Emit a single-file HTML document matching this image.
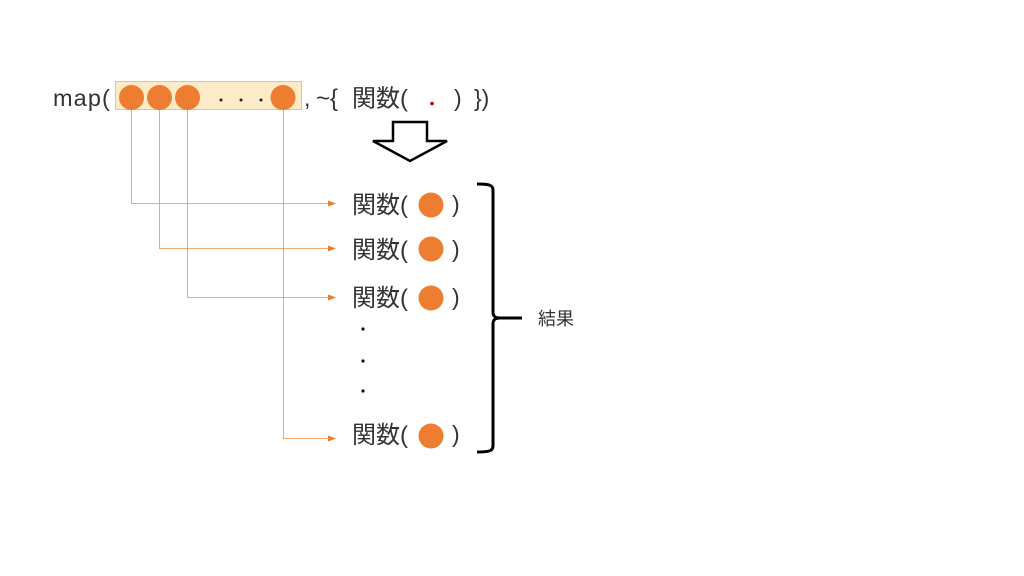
<!DOCTYPE html>
<html>
<head>
<meta charset="utf-8">
<style>
  html,body{margin:0;padding:0;background:#fff;}
  svg{display:block;}
  text{font-family:"Liberation Sans","Noto Sans CJK JP",sans-serif;fill:#333;}
</style>
</head>
<body>
<svg width="1024" height="576" viewBox="0 0 1024 576" xmlns="http://www.w3.org/2000/svg">
  <rect x="0" y="0" width="1024" height="576" fill="#fff"/>

  <!-- top expression -->
  <text x="53" y="106" font-size="23.5" letter-spacing="1.1">map(</text>
  <rect x="115.5" y="81.5" width="186" height="28" fill="#fdeac6" stroke="#f4c35c" stroke-width="1"/>

  <!-- connectors -->
  <g fill="none" stroke="#ef9a5c" stroke-width="1" stroke-opacity="0.85">
    <path d="M131.5,100 V203.5 H329"/>
    <path d="M159.5,100 V248.5 H329"/>
    <path d="M187.5,100 V297.5 H329"/>
    <path d="M283.5,100 V438.5 H329"/>
  </g>
  <g fill="#ed7d31">
    <polygon points="336,203.5 328,200.5 328,206.5"/>
    <polygon points="336,248.5 328,245.5 328,251.5"/>
    <polygon points="336,297.5 328,294.5 328,300.5"/>
    <polygon points="336,438.5 328,435.5 328,441.5"/>
  </g>

  <g fill="#ed7d31">
    <circle cx="131.5" cy="97.5" r="12.5"/>
    <circle cx="159.5" cy="97.5" r="12.5"/>
    <circle cx="187.5" cy="97.5" r="12.5"/>
    <circle cx="283" cy="97.5" r="12.5"/>
  </g>
  <g fill="#222">
    <circle cx="221" cy="100" r="1.5"/>
    <circle cx="241" cy="100" r="1.5"/>
    <circle cx="261" cy="100" r="1.5"/>
  </g>

  <text x="304" y="106" font-size="23">,</text>
  <text x="316" y="106" font-size="24">~{</text>
  <text x="352" y="106.5" font-size="24">関数(</text>
  <circle cx="432" cy="103.5" r="1.8" fill="#c00000"/>
  <text x="454" y="106" font-size="23">)</text>
  <text x="474" y="106" font-size="23">})</text>

  <!-- down arrow -->
  <path d="M393,122 H427 V141 H447 L410,161 L373,141 H393 Z" fill="#fff" stroke="#000" stroke-width="2.5" stroke-linejoin="miter"/>

  <!-- result rows -->
  <text x="352" y="213" font-size="24">関数(</text>
  <circle cx="431" cy="205" r="12.5" fill="#ed7d31"/>
  <text x="452" y="212" font-size="23">)</text>

  <text x="352" y="258" font-size="24">関数(</text>
  <circle cx="431" cy="249" r="12.5" fill="#ed7d31"/>
  <text x="452" y="257" font-size="23">)</text>

  <text x="352" y="306" font-size="24">関数(</text>
  <circle cx="431" cy="298" r="12.5" fill="#ed7d31"/>
  <text x="452" y="305" font-size="23">)</text>

  <g fill="#111">
    <circle cx="363" cy="329" r="1.6"/>
    <circle cx="363" cy="361" r="1.6"/>
    <circle cx="363" cy="391" r="1.6"/>
  </g>

  <text x="352" y="443" font-size="24">関数(</text>
  <circle cx="431" cy="436" r="12.5" fill="#ed7d31"/>
  <text x="452" y="442" font-size="23">)</text>

  <!-- bracket -->
  <g fill="none" stroke="#000" stroke-width="3" stroke-linecap="butt">
    <path d="M477,184 C489,184 493,185 493,190 L493,312 C493,316 495,318 500,318 L522,318"/>
    <path d="M500,318 C495,318 493,320 493,324 L493,446 C493,451 489,452 477,452"/>
  </g>
  <text x="538" y="325" font-size="18" fill="#404040">結果</text>
</svg>
</body>
</html>
